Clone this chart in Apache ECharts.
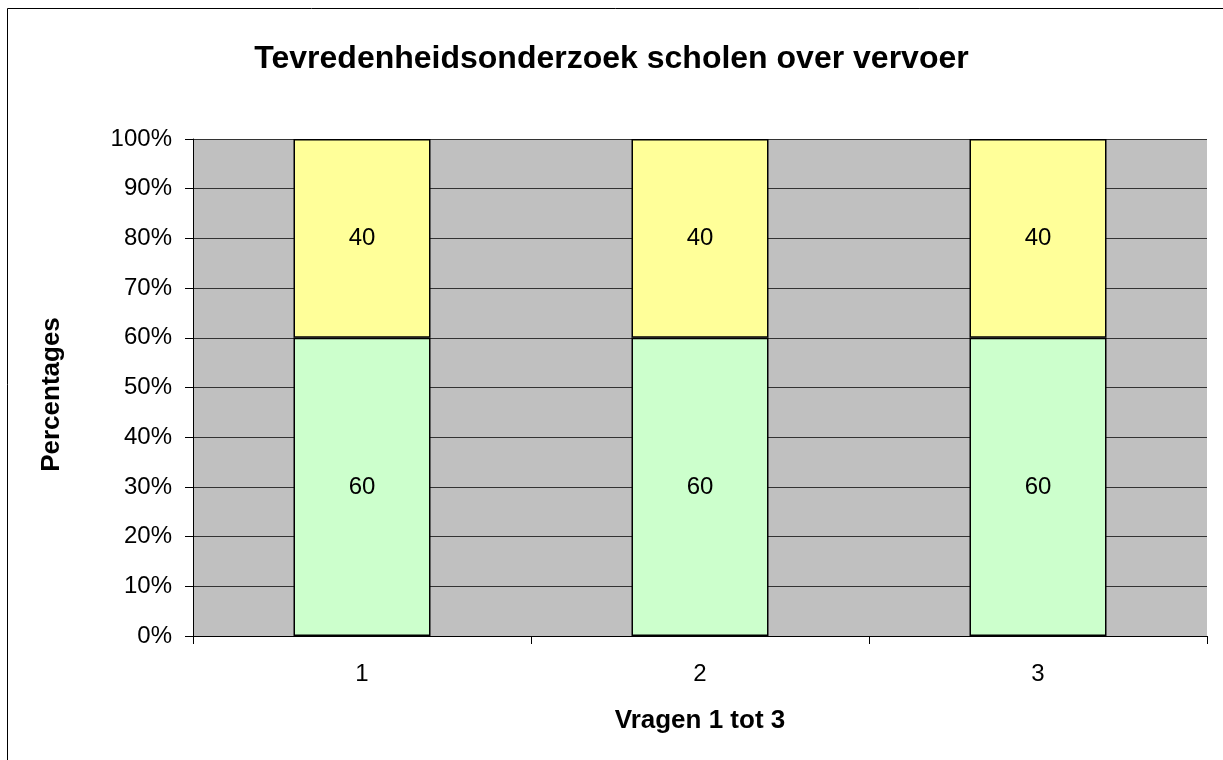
<!DOCTYPE html>
<html>
<head>
<meta charset="utf-8">
<script src="https://cdn.jsdelivr.net/npm/echarts@6/dist/echarts.min.js"></script>
<style>
  html, body { margin: 0; padding: 0; background: #fff; }
  #chart { width: 1223px; height: 760px; }
</style>
</head>
<body>
<div id="chart"></div>
<script>
const categories = ['1', '2', '3'];
const tevreden = [60, 60, 60];
const ontevreden = [40, 40, 40];

const chart = echarts.init(document.getElementById('chart'));
const font = 'Liberation Sans, Arial, sans-serif';

chart.setOption({
    animation: false,
    title: {
        text: 'Tevredenheidsonderzoek scholen over vervoer',
        left: 'center',
        top: 38,
        textStyle: { fontFamily: font, fontSize: 32, fontWeight: 'bold', color: '#000' }
    },
    graphic: [{
        type: 'rect',
        shape: { x: 7.5, y: 8.5, width: 1230, height: 770 },
        style: { fill: null, stroke: '#000', lineWidth: 1 },
        silent: true
    }],
    grid: {
        left: 193, top: 139, width: 1014, height: 497,
        show: true, backgroundColor: '#C0C0C0', borderWidth: 0
    },
    xAxis: {
        type: 'category',
        data: categories,
        name: 'Vragen 1 tot 3',
        nameLocation: 'middle',
        nameGap: 72,
        nameTextStyle: { fontFamily: font, fontSize: 26, fontWeight: 'bold', color: '#000' },
        axisLine: { show: true, lineStyle: { color: '#000', width: 1 } },
        axisTick: { show: true, alignWithLabel: false, length: 8, lineStyle: { color: '#000', width: 1 } },
        axisLabel: { fontFamily: font, fontSize: 24, color: '#000', margin: 26 }
    },
    yAxis: {
        type: 'value',
        min: 0, max: 100, interval: 10,
        name: 'Percentages',
        nameLocation: 'middle',
        nameGap: 128,
        nameTextStyle: { fontFamily: font, fontSize: 26, fontWeight: 'bold', color: '#000', padding: [0, 14, 0, 0] },
        axisLine: { show: true, lineStyle: { color: '#000', width: 1 } },
        axisTick: { show: true, length: 8, lineStyle: { color: '#000' } },
        axisLabel: { fontFamily: font, fontSize: 24, color: '#000', margin: 21, formatter: '{value}%' },
        splitLine: { show: true, lineStyle: { color: '#333', width: 1 } }
    },
    series: [{
        type: 'bar',
        stack: 'totaal',
        data: tevreden,
        barWidth: 137,
        itemStyle: { color: '#CCFFCC', borderColor: '#000', borderWidth: 1.5 },
        label: { show: true, position: 'inside', fontFamily: font, fontSize: 24, color: '#000' }
    }, {
        type: 'bar',
        stack: 'totaal',
        data: ontevreden,
        barWidth: 137,
        itemStyle: { color: '#FFFF99', borderColor: '#000', borderWidth: 1.5 },
        label: { show: true, position: 'inside', fontFamily: font, fontSize: 24, color: '#000' }
    }]
});
</script>
</body>
</html>
